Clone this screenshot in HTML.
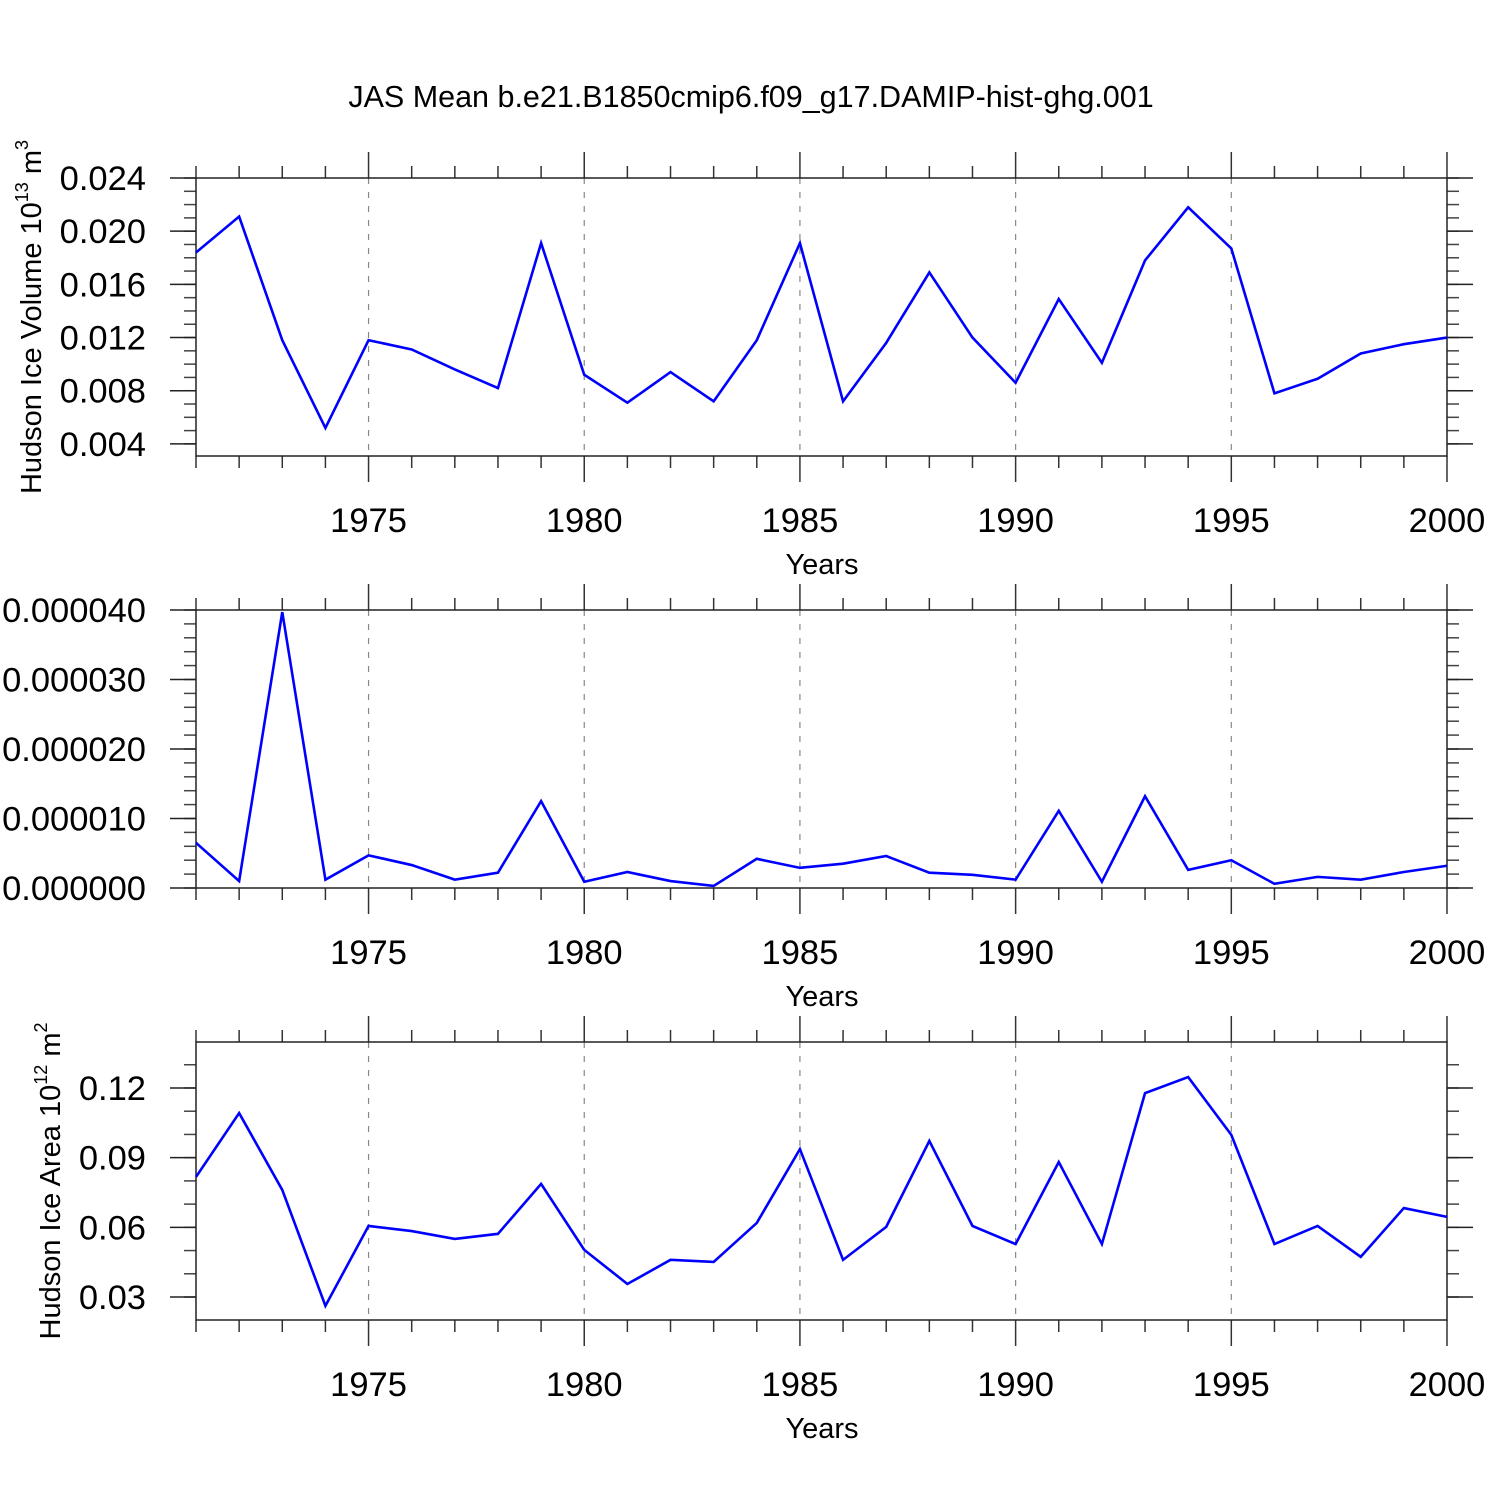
<!DOCTYPE html>
<html><head><meta charset="utf-8"><style>
html,body{margin:0;padding:0;background:#fff;}
svg text{font-family:"Liberation Sans",sans-serif;fill:#000;}
</style></head><body>
<svg id="chart" width="1500" height="1500" viewBox="0 0 1500 1500" xmlns="http://www.w3.org/2000/svg">
<text x="751" y="107" font-size="30.5" text-anchor="middle">JAS Mean b.e21.B1850cmip6.f09_g17.DAMIP-hist-ghg.001</text>
</svg>
<script>
const years = [1971,1972,1973,1974,1975,1976,1977,1978,1979,1980,1981,1982,1983,1984,1985,1986,1987,1988,1989,1990,1991,1992,1993,1994,1995,1996,1997,1998,1999,2000];
const volumeValues = [0.0184,0.0211,0.0118,0.0052,0.0118,0.0111,0.0096,0.0082,0.0191,0.0092,0.0071,0.0094,0.0072,0.0118,0.0191,0.0072,0.0116,0.0169,0.0120,0.0086,0.0149,0.0101,0.0178,0.0218,0.0187,0.0078,0.0089,0.0108,0.0115,0.0120];
const middleValues = [6.5e-6,1.0e-6,39.7e-6,1.2e-6,4.7e-6,3.3e-6,1.2e-6,2.2e-6,12.5e-6,0.9e-6,2.3e-6,1.0e-6,0.3e-6,4.2e-6,2.9e-6,3.5e-6,4.6e-6,2.2e-6,1.9e-6,1.2e-6,11.1e-6,0.9e-6,13.2e-6,2.6e-6,4.0e-6,0.6e-6,1.6e-6,1.2e-6,2.3e-6,3.2e-6];
const areaValues = [0.0817,0.1092,0.0761,0.0262,0.0606,0.0584,0.0550,0.0572,0.0787,0.0503,0.0356,0.0460,0.0451,0.0619,0.0937,0.0460,0.0602,0.0972,0.0606,0.0528,0.0881,0.0528,0.1178,0.1247,0.0998,0.0528,0.0606,0.0473,0.0683,0.0645];
const xTickLabels = ["1975","1980","1985","1990","1995","2000"];
const volTicks = [0.004,0.008,0.012,0.016,0.020,0.024];
const volTickLabels = ["0.004","0.008","0.012","0.016","0.020","0.024"];
const midTicks = [0,10e-6,20e-6,30e-6,40e-6];
const midTickLabels = ["0.000000","0.000010","0.000020","0.000030","0.000040"];
const areaTicks = [0.03,0.06,0.09,0.12];
const areaTickLabels = ["0.03","0.06","0.09","0.12"];

const NS="http://www.w3.org/2000/svg";
const svg=document.getElementById('chart');
const L=196,R=1447;
function xs(yr){return L+(yr-1971)*(R-L)/(2000-1971);}
function mk(tag,attrs,parent){const e=document.createElementNS(NS,tag);for(const k in attrs)e.setAttribute(k,attrs[k]);(parent||svg).appendChild(e);return e;}

function panel(id,top,bot,ymin,ymax,vals,ticks,labels,minorStep,title){
  const g=mk('g',{});
  
  
  const ys=v=>bot-(v-ymin)*(bot-top)/(ymax-ymin);
  for(let y=1975;y<2000;y+=5){
    const l=mk('line',{x1:xs(y),x2:xs(y),y1:top,y2:bot,stroke:'#888','stroke-width':1.2,'stroke-dasharray':'6,8'},g);
    
    
  }
  for(let y=1971;y<=2000;y++){
    const major=(y%5===0);const len=major?26:12;
    mk('line',{x1:xs(y),x2:xs(y),y1:top-len,y2:top,stroke:'#333','stroke-width':1.5},g);
    mk('line',{x1:xs(y),x2:xs(y),y1:bot,y2:bot+len,stroke:'#333','stroke-width':1.5},g);
  }
  xTickLabels.forEach(s=>{
    const t=mk('text',{x:xs(+s),y:bot+76,'font-size':34.5,'text-anchor':'middle'},g);
    t.textContent=s;
    
    
  });
  const xt=mk('text',{x:822,y:bot+118,'font-size':29,'text-anchor':'middle'},g);
  xt.textContent='Years';
  
  
  const start=Math.ceil(ymin/minorStep-1e-6);
  for(let i=start;i*minorStep<=ymax+1e-12;i++){
    const v=i*minorStep;const y=ys(v);
    if(y<top-0.5||y>bot+0.5)continue;
    mk('line',{x1:L-12,x2:L,y1:y,y2:y,stroke:'#444','stroke-width':1.5},g);
    mk('line',{x1:R,x2:R+12,y1:y,y2:y,stroke:'#444','stroke-width':1.5},g);
  }
  ticks.forEach((v,i)=>{
    const y=ys(v);
    mk('line',{x1:L-26,x2:L,y1:y,y2:y,stroke:'#222','stroke-width':1.5},g);
    mk('line',{x1:R,x2:R+26,y1:y,y2:y,stroke:'#222','stroke-width':1.5},g);
    const t=mk('text',{x:L-50,y:y+12,'font-size':34.5,'text-anchor':'end'},g);
    t.textContent=labels[i];
    
    
  });
  mk('rect',{x:L,y:top,width:R-L,height:bot-top,fill:'none',stroke:'#222','stroke-width':1.5},g);
  const pts=vals.map((v,i)=>xs(years[i])+','+ys(v)).join(' ');
  const pl=mk('polyline',{points:pts,fill:'none',stroke:'#0000ff','stroke-width':2.6,'stroke-linejoin':'miter'},g);
  
  
  if(title){
    const t=mk('text',{x:0,y:0,'font-size':29,'text-anchor':'middle',transform:`translate(${title.x},${(top+bot)/2}) rotate(-90)`},g);
    t.innerHTML=title.html;
    
    
  }
}
panel('volume',178,456,0.00309,0.024,volumeValues,volTicks,volTickLabels,0.001,
  {x:41,html:'Hudson Ice Volume 10<tspan font-size="18" dy="-13">13</tspan><tspan dy="13"> m</tspan><tspan font-size="18" dy="-13">3</tspan>'});
panel('middle',610,888,0,40e-6,middleValues,midTicks,midTickLabels,2e-6,null);
panel('area',1042,1320,0.0201,0.1398,areaValues,areaTicks,areaTickLabels,0.01,
  {x:60,html:'Hudson Ice Area 10<tspan font-size="18" dy="-13">12</tspan><tspan dy="13"> m</tspan><tspan font-size="18" dy="-13">2</tspan>'});
</script>
</body></html>
